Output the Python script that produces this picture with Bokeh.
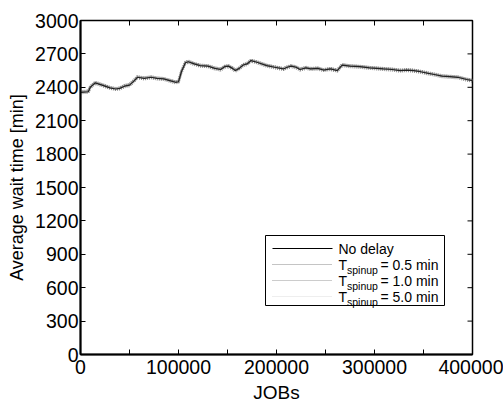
import math
from bokeh.plotting import figure
from bokeh.models import LinearAxis, Range1d, FixedTicker, NumeralTickFormatter
from bokeh.core.properties import value
from bokeh.embed import file_html
from bokeh.resources import INLINE

# ---------------- data ----------------
jobs = [0, 8000, 10000, 15000, 22000, 30000, 36000, 40000, 45000, 50000,
        55000, 58000, 65000, 72000, 78000, 85000, 91000, 97000, 100000, 103000,
        107000, 110000, 116000, 122000, 130000, 137000, 143000, 147000, 151000, 155000,
        158000, 162000, 166000, 170000, 174000, 180000, 190000, 198000, 207000, 211000,
        215000, 220000, 224000, 230000, 235000, 242000, 248000, 255000, 262000, 264000,
        267000, 275000, 285000, 295000, 309000, 318000, 326000, 333000, 340000, 347000,
        355000, 361000, 369000, 377000, 385000, 394000, 400000]

wait_no_delay = [2355, 2360, 2400, 2440, 2420, 2395, 2385, 2390, 2410, 2420,
                 2460, 2490, 2480, 2490, 2480, 2475, 2460, 2445, 2450, 2540,
                 2620, 2630, 2610, 2595, 2590, 2570, 2560, 2585, 2590, 2570,
                 2550, 2570, 2600, 2610, 2640, 2625, 2595, 2580, 2565, 2580,
                 2590, 2580, 2560, 2575, 2565, 2570, 2555, 2565, 2550, 2570,
                 2600, 2590, 2585, 2575, 2565, 2560, 2550, 2555, 2550, 2540,
                 2525, 2515, 2500, 2495, 2490, 2470, 2460]

wait_05 = [2360, 2365, 2410, 2448, 2428, 2402, 2392, 2398, 2420, 2430,
           2470, 2498, 2488, 2497, 2487, 2482, 2468, 2452, 2458, 2550,
           2628, 2638, 2617, 2602, 2597, 2578, 2567, 2592, 2597, 2578,
           2558, 2577, 2607, 2618, 2647, 2632, 2602, 2587, 2572, 2587,
           2597, 2587, 2568, 2582, 2572, 2577, 2562, 2572, 2558, 2578,
           2607, 2597, 2592, 2582, 2572, 2567, 2557, 2562, 2557, 2547,
           2532, 2522, 2507, 2502, 2497, 2477, 2467]

wait_10 = [2348, 2352, 2392, 2432, 2412, 2388, 2378, 2383, 2402, 2412,
           2452, 2482, 2472, 2482, 2472, 2467, 2452, 2437, 2442, 2530,
           2612, 2622, 2602, 2587, 2582, 2562, 2552, 2577, 2582, 2562,
           2542, 2562, 2592, 2602, 2632, 2617, 2587, 2572, 2557, 2572,
           2582, 2572, 2552, 2567, 2557, 2562, 2547, 2557, 2542, 2562,
           2592, 2582, 2577, 2567, 2557, 2552, 2542, 2547, 2542, 2532,
           2517, 2507, 2492, 2487, 2482, 2462, 2452]

wait_50 = [2364, 2370, 2405, 2444, 2424, 2398, 2388, 2394, 2414, 2424,
           2464, 2494, 2484, 2494, 2484, 2479, 2464, 2449, 2454, 2545,
           2624, 2634, 2614, 2599, 2594, 2574, 2564, 2589, 2594, 2574,
           2554, 2574, 2604, 2614, 2644, 2629, 2599, 2584, 2569, 2584,
           2594, 2584, 2564, 2579, 2569, 2574, 2559, 2569, 2554, 2574,
           2604, 2594, 2589, 2579, 2569, 2564, 2554, 2559, 2554, 2544,
           2529, 2519, 2504, 2499, 2494, 2474, 2464]

x_ticks = [0, 100000, 200000, 300000, 400000]
x_minor_ticks = [50000, 150000, 250000, 350000]
y_ticks = [0, 300, 600, 900, 1200, 1500, 1800, 2100, 2400, 2700, 3000]

legend_values = ["0.5", "1.0", "5.0"]

FONT = "Liberation Sans"

# ---------------- figure ----------------
p = figure(width=503, height=405, output_backend="svg", toolbar_location=None,
           x_range=Range1d(0, 400000), y_range=Range1d(0, 3000),
           x_axis_type=None, y_axis_type=None,
           min_border_left=80, min_border_right=31, min_border_top=20,
           min_border_bottom=51)
p.grid.visible = False
p.outline_line_color = "black"
p.outline_line_width = 1.5
p.background_fill_color = "white"
p.border_fill_color = "white"

xt = FixedTicker(ticks=x_ticks, minor_ticks=x_minor_ticks)
yt = FixedTicker(ticks=y_ticks, minor_ticks=[])


def style_axis(ax):
    ax.axis_line_color = "black"
    ax.axis_line_width = 2
    ax.major_tick_in = 5
    ax.major_tick_out = 0
    ax.minor_tick_in = 5
    ax.minor_tick_out = 0
    ax.major_tick_line_color = "black"
    ax.minor_tick_line_color = "black"
    ax.major_label_text_font = FONT
    ax.major_label_text_color = "black"
    ax.major_label_text_font_size = "19.5px"
    ax.axis_label_text_font = FONT
    ax.axis_label_text_font_style = "normal"
    ax.axis_label_text_color = "black"


xb = LinearAxis(ticker=xt, formatter=NumeralTickFormatter(format="0"), axis_label="JOBs")
style_axis(xb)
xb.axis_label_text_font_size = "19px"
xb.major_label_standoff = 5
xb.axis_label_standoff = 5
p.add_layout(xb, "below")

yl = LinearAxis(ticker=yt, formatter=NumeralTickFormatter(format="0"),
                axis_label="Average wait time [min]")
style_axis(yl)
yl.axis_label_text_font_size = "18px"
yl.major_label_standoff = 2
yl.axis_label_standoff = 5
p.add_layout(yl, "left")

# inward tick marks on the top and right frame edges
top_ticks = x_ticks + x_minor_ticks
p.ray(x=top_ticks, y=[y_ticks[-1]] * len(top_ticks), length=5, length_units="screen",
      angle=-math.pi / 2, line_color="black", line_width=1)
p.ray(x=[x_ticks[-1]] * len(y_ticks), y=y_ticks, length=5, length_units="screen",
      angle=math.pi, line_color="black", line_width=1)

# ---------------- series ----------------
p.line(jobs, wait_10, line_color="#8a8a8a", line_width=2.4, line_dash="1 1")
p.line(jobs, wait_05, line_color="#7a7a7a", line_width=2.4, line_dash="1 1")
p.line(jobs, wait_50, line_color="#9a9a9a", line_width=2.4, line_dash="1 1")
p.line(jobs, wait_no_delay, line_color="#222222", line_width=1.2)

# ---------------- legend (drawn by hand for subscripts) ----------------
px = 400000 / 392.0
py = 3000 / 334.0


def lx(page_x):
    return (page_x - 80) * px


def ly(page_y):
    return (354 - page_y) * py


p.quad(left=[lx(265)], right=[lx(444)], top=[ly(235)], bottom=[ly(305)],
       fill_color="white", line_color="black", line_width=1)

rows_y = [248, 264, 280, 296]
sample_styles = [("#000000", 1, "solid"), ("#888888", 1, "1 1"),
                 ("#999999", 1, "1 1"), ("#dddddd", 1, "1 1")]
for ry, (c, w, d) in zip(rows_y, sample_styles):
    p.line([lx(272), lx(332)], [ly(ry), ly(ry)], line_color=c, line_width=w, line_dash=d)

p.text(x=[lx(338)], y=[ly(rows_y[0])], text=["No delay"],
       text_font=value(FONT), text_font_size="14px", text_baseline="middle",
       text_color="black")
p.text(x=[lx(338)] * 3, y=[ly(r) for r in rows_y[1:]], text=["T"] * 3,
       text_font=value(FONT), text_font_size="14px", text_baseline="middle",
       text_color="black")
p.text(x=[lx(346.5)] * 3, y=[ly(r + 5) for r in rows_y[1:]], text=["spinup"] * 3,
       text_font=value(FONT), text_font_size="10.5px", text_baseline="middle",
       text_color="black")
p.text(x=[lx(380)] * 3, y=[ly(r) for r in rows_y[1:]],
       text=["= %s min" % v for v in legend_values],
       text_font=value(FONT), text_font_size="14px", text_baseline="middle",
       text_color="black")

open("out.html", "w").write(file_html(p, INLINE))
